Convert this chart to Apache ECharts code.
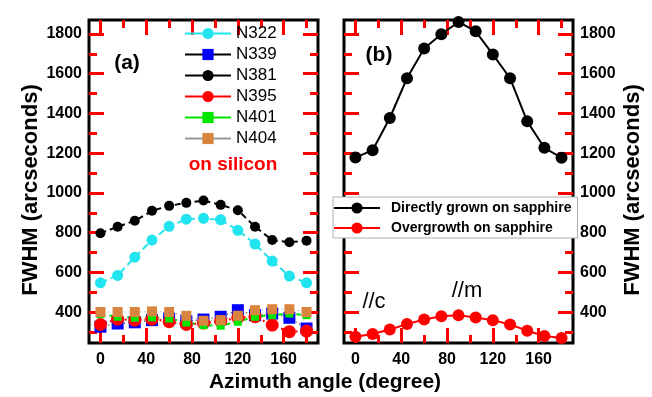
<!DOCTYPE html>
<html>
<head>
<meta charset="utf-8">
<script src="https://cdn.jsdelivr.net/npm/echarts@6.0.0/dist/echarts.min.js"></script>
<style>
  html, body { margin: 0; padding: 0; background: #fff; }
  #chart { width: 652px; height: 397px; }
</style>
</head>
<body>
<div id="chart"></div>
<script>
// azimuth angles (degree)
const angles = [0, 15, 30, 45, 60, 75, 90, 105, 120, 135, 150, 165, 180];

// (a) on silicon
const n322 = [548, 585, 677, 763, 832, 868, 872, 865, 812, 743, 657, 582, 548];
const n339 = [327, 343, 349, 360, 368, 355, 363, 377, 410, 385, 393, 372, 318];
const n381 = [797, 830, 860, 910, 935, 950, 962, 940, 913, 830, 763, 752, 760];
const n395 = [338, 365, 360, 365, 352, 338, 345, 355, 372, 377, 335, 302, 305];
const n401 = [390, 377, 372, 374, 368, 348, 335, 332, 352, 377, 385, 393, 385];
const n404 = [401, 401, 401, 404, 401, 382, 357, 360, 382, 410, 415, 415, 401];

// (b) on sapphire
const direct = [1178, 1215, 1377, 1577, 1727, 1798, 1860, 1813, 1697, 1577, 1360, 1227, 1177];
const overgrowth = [277, 290, 313, 340, 363, 380, 385, 373, 360, 338, 307, 280, 270];

// ticks
const xMajor = [0, 40, 80, 120, 160];
const xMinor = [20, 60, 100, 140, 180];
const yMajor = [400, 600, 800, 1000, 1200, 1400, 1600, 1800];
const yMinor = [300, 500, 700, 900, 1100, 1300, 1500, 1700];

const FONT = "'Liberation Sans', Arial, sans-serif";
const X_MIN = -10, X_MAX = 190, Y_MIN = 245, Y_MAX = 1870;
const AXES_PER_GRID = 5;

function pairs(ys) {
  return angles.map((a, i) => [a, ys[i]]);
}

function isX(position) {
  return position === 'bottom' || position === 'top';
}

function labelAxis(gridIndex, position) {
  const x = isX(position);
  return {
    type: 'value',
    gridIndex,
    position,
    min: x ? X_MIN : Y_MIN,
    max: x ? X_MAX : Y_MAX,
    axisLine: { show: false, onZero: false },
    splitLine: { show: false },
    axisTick: { show: false },
    axisLabel: {
      show: true,
      customValues: x ? xMajor : yMajor,
      formatter: (v) => String(v),
      color: '#000',
      fontWeight: 'bold',
      fontSize: 16,
      fontFamily: FONT,
      margin: x ? 9 : 7,
    },
  };
}

function tickAxis(gridIndex, position, values, len) {
  const x = isX(position);
  return {
    type: 'value',
    gridIndex,
    position,
    min: x ? X_MIN : Y_MIN,
    max: x ? X_MAX : Y_MAX,
    axisLine: { show: false, onZero: false },
    splitLine: { show: false },
    axisTick: {
      show: true,
      inside: true,
      length: len,
      customValues: values,
      lineStyle: { color: 'red', width: 3 },
    },
    axisLabel: { color: 'rgba(0,0,0,0)' },
  };
}

const xAxis = [];
const yAxis = [];
[0, 1].forEach((g) => {
  xAxis.push(labelAxis(g, 'bottom'));
  xAxis.push(tickAxis(g, 'bottom', xMajor, 15));
  xAxis.push(tickAxis(g, 'bottom', xMinor, 8));
  xAxis.push(tickAxis(g, 'top', xMajor, 15));
  xAxis.push(tickAxis(g, 'top', xMinor, 8));
  yAxis.push(labelAxis(g, g === 0 ? 'left' : 'right'));
  yAxis.push(tickAxis(g, 'left', yMajor, 15));
  yAxis.push(tickAxis(g, 'left', yMinor, 8));
  yAxis.push(tickAxis(g, 'right', yMajor, 15));
  yAxis.push(tickAxis(g, 'right', yMinor, 8));
});

function line(name, ys, g, opts) {
  return {
    name,
    type: 'line',
    xAxisIndex: g * AXES_PER_GRID,
    yAxisIndex: g * AXES_PER_GRID,
    data: pairs(ys),
    symbol: opts.symbol || 'circle',
    symbolSize: opts.size,
    itemStyle: { color: opts.color },
    lineStyle: { color: opts.lineColor || opts.color, width: opts.width || 2, type: opts.type || 'solid' },
    emphasis: { disabled: true },
    clip: false,
  };
}

const series = [
  line('N322', n322, 0, { color: '#22e4ee', size: 11, type: [7, 4] }),
  line('N339', n339, 0, { color: '#0000ff', lineColor: '#000', symbol: 'rect', size: 12, width: 1, type: [1, 3] }),
  line('N381', n381, 0, { color: '#000', size: 10, type: [6, 4] }),
  line('N395', n395, 0, { color: '#ff0000', size: 13, width: 2, type: [2, 3] }),
  line('N401', n401, 0, { color: '#00e600', symbol: 'rect', size: 8, type: [5, 4] }),
  line('N404', n404, 0, { color: '#d9843f', lineColor: '#999', symbol: 'rect', size: 10, width: 1, type: [1, 3] }),
  line('Directly grown on sapphire', direct, 1, { color: '#000', size: 12, width: 2 }),
  line('Overgrowth on sapphire', overgrowth, 1, { color: '#ff0000', size: 12, width: 2 }),
];

function txt(text, x, y, size, opts) {
  opts = opts || {};
  return {
    type: 'text',
    x, y,
    rotation: opts.rotation || 0,
    z: 10,
    style: {
      text,
      fill: opts.color || '#000',
      font: (opts.weight || 'bold') + ' ' + size + 'px ' + FONT,
      textAlign: opts.align || 'center',
      textVerticalAlign: 'middle',
    },
  };
}

const chart = echarts.init(document.getElementById('chart'));
chart.setOption({
  animation: false,
  grid: [
    { left: 89, top: 18, width: 229, height: 325, show: true, borderColor: '#000', borderWidth: 3 },
    { left: 344, top: 18, width: 229, height: 325, show: true, borderColor: '#000', borderWidth: 3 },
  ],
  xAxis,
  yAxis,
  legend: [
    {
      orient: 'vertical',
      left: 184,
      top: 25,
      padding: 0,
      itemWidth: 46,
      itemHeight: 14,
      itemGap: 4,
      data: ['N322', 'N339', 'N381', 'N395', 'N401', 'N404'],
      lineStyle: { type: 'solid' },
      textStyle: { fontSize: 17, lineHeight: 17, fontFamily: FONT, color: '#000', padding: [0, 0, 0, 0] },
    },
    {
      orient: 'vertical',
      left: 333,
      top: 197,
      padding: [3, 6, 2, 0],
      backgroundColor: '#fff',
      borderColor: '#b0b0b0',
      borderWidth: 1,
      borderRadius: 0,
      itemWidth: 46,
      itemHeight: 14,
      itemGap: 4,
      data: ['Directly grown on sapphire', 'Overgrowth on sapphire'],
      lineStyle: { type: 'solid' },
      textStyle: { fontSize: 14, lineHeight: 16, fontWeight: 'bold', fontFamily: FONT, color: '#000', padding: [0, 0, 0, 6] },
      z: 20,
    },
  ],
  graphic: [
    txt('FWHM (arcseconds)', 31, 190, 22, { rotation: Math.PI / 2 }),
    txt('FWHM (arcseconds)', 633, 190, 22, { rotation: Math.PI / 2 }),
    txt('Azimuth angle (degree)', 325, 382, 21),
    txt('(a)', 127, 63, 21),
    txt('(b)', 379, 55, 21),
    txt('on silicon', 233, 165, 19, { color: '#ff0000' }),
    txt('//c', 374, 302, 22, { weight: 'normal' }),
    txt('//m', 467, 291, 22, { weight: 'normal' }),
  ],
  series,
});
</script>
</body>
</html>
